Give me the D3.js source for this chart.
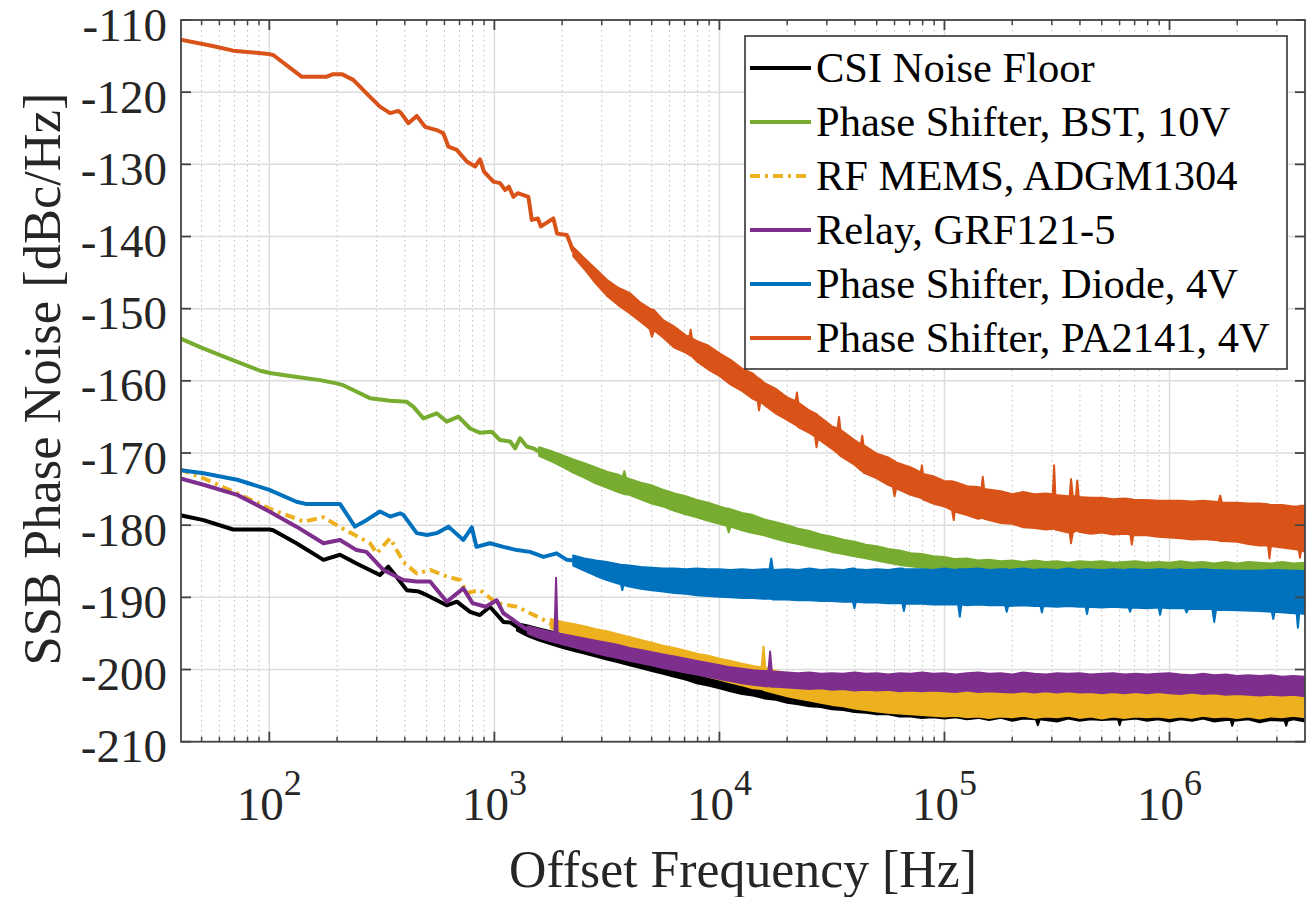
<!DOCTYPE html>
<html>
<head>
<meta charset="utf-8">
<script src="https://cdn.jsdelivr.net/npm/d3@7"></script>
<style>
html, body { margin: 0; padding: 0; background: #fff; }
svg { display: block; }
</style>
</head>
<body>
<svg id="chart" width="1314" height="897"></svg>
<script>
// ---------------------------------------------------------------------------
// Measured SSB phase noise. Each device has a low-offset trace [Hz, dBc/Hz]
// and a noisy high-offset envelope [Hz, upper dBc/Hz, lower dBc/Hz].
// ---------------------------------------------------------------------------
const seriesNames = [
  "CSI Noise Floor",
  "Phase Shifter, BST, 10V",
  "RF MEMS, ADGM1304",
  "Relay, GRF121-5",
  "Phase Shifter, Diode, 4V",
  "Phase Shifter, PA2141, 4V"
];

const traceCSI = [[40,-178.6],[51,-179.3],[69,-180.6],[100,-180.6],[104,-180.7],[132,-182.5],[174,-184.8],[206,-184.1],[244,-185.3],[310,-186.9],[338,-185.75],[360,-186.8],[408,-189.0],[462,-189.2],[502,-189.7],[614,-191.1],[681,-190.6],[780,-192.0],[862,-192.45],[955,-191.3],[1097,-193.4],[1180,-193.5]];
const bandCSI = [[1260,-193.6,-194.6],[1410,-193.9,-195.4],[1580,-194.3,-196.0],[1780,-194.7,-196.5],[2000,-195.1,-197.0],[2240,-195.4,-197.4],[2510,-195.8,-197.8],[2820,-196.2,-198.2],[3160,-196.5,-198.6],[3550,-196.8,-199.0],[3980,-197.2,-199.4],[4470,-197.5,-199.8],[5010,-197.9,-200.2],[5620,-198.2,-200.6],[6310,-198.6,-201.0],[7080,-198.9,-201.4],[7940,-199.3,-201.9],[8910,-199.6,-202.2],
  [1.00e4,-200.0,-202.6],[1.12e4,-200.2,-203.0],[1.26e4,-200.6,-203.4],[1.41e4,-200.8,-203.6],[1.58e4,-201.1,-204.0],[1.78e4,-201.3,-204.2],[2.00e4,-201.6,-204.6],[2.24e4,-201.8,-204.8],[2.51e4,-202.0,-205.1],[2.82e4,-202.3,-205.2],[3.16e4,-202.4,-205.5],[3.55e4,-202.6,-205.6],[3.98e4,-202.8,-205.9],[4.47e4,-202.9,-206.0],[5.01e4,-203.1,-206.2],[5.62e4,-203.2,-206.2],[6.31e4,-203.4,-206.5],[7.08e4,-203.5,-206.5],[7.94e4,-203.6,-206.7],[8.91e4,-203.7,-206.6],
  [1.00e5,-203.8,-206.8],[1.12e5,-203.9,-206.6],[1.26e5,-204.0,-206.9],[1.41e5,-204.0,-206.7],[1.58e5,-204.1,-207.0],[1.78e5,-204.0,-206.7],[2.00e5,-204.1,-207.1],[2.24e5,-204.2,-206.8],[2.55e5,-204.1,-206.9],[2.60e5,-204.1,-207.7],[2.65e5,-204.2,-206.9],[3.16e5,-204.2,-207.2],[3.55e5,-204.1,-206.8],[3.98e5,-204.2,-207.1],[4.47e5,-204.2,-206.9],[5.01e5,-204.3,-207.0],[5.90e5,-204.2,-206.9],[6.00e5,-204.2,-207.7],[6.10e5,-204.3,-207.0],[7.08e5,-204.2,-206.8],[7.94e5,-204.3,-207.1],[8.91e5,-204.3,-206.9],
  [1.00e6,-204.4,-207.2],[1.12e6,-204.3,-206.9],[1.26e6,-204.4,-207.1],[1.41e6,-204.4,-206.8],[1.58e6,-204.5,-207.2],[1.78e6,-204.4,-207.0],[1.87e6,-204.5,-207.0],[1.90e6,-204.5,-207.8],[1.93e6,-204.5,-207.1],[2.24e6,-204.5,-206.9],[2.51e6,-204.6,-207.3],[2.82e6,-204.5,-207.0],[3.25e6,-204.6,-207.1],[3.30e6,-204.6,-207.8],[3.35e6,-204.6,-207.1],[3.55e6,-204.6,-206.9],[4.00e6,-204.7,-207.2]];

const traceBST = [[40,-154.1],[49,-155.3],[60,-156.4],[74,-157.5],[91,-158.6],[102,-158.95],[128,-159.4],[168,-159.9],[199,-160.35],[213,-160.6],[280,-162.4],[344,-162.75],[408,-162.9],[437,-163.6],[484,-165.2],[554,-164.5],[614,-165.65],[692,-164.95],[780,-166.6],[864,-167.2],[973,-167.05],[1059,-168.2],[1175,-168.4],[1236,-169.35],[1300,-167.95],[1393,-169.1],[1500,-169.4]];
const bandBST = [[1580,-169.2,-170.4],[1780,-169.7,-171.1],[2000,-170.3,-171.9],[2240,-170.9,-172.7],[2510,-171.4,-173.4],[2820,-172.0,-174.2],[3160,-172.6,-174.8],[3550,-173.0,-175.4],[3720,-173.3,-175.6],[3780,-172.5,-175.7],[3840,-173.4,-175.7],[3980,-173.6,-175.8],[4470,-174.1,-176.4],[5010,-174.5,-177.0],[5620,-175.1,-177.4],[6310,-175.6,-178.0],[7080,-176.0,-178.5],[7940,-176.5,-178.9],[8910,-176.9,-179.4],
  [1.00e4,-177.4,-179.8],[1.08e4,-177.7,-180.1],[1.10e4,-177.7,-181.0],[1.12e4,-177.8,-180.2],[1.26e4,-178.3,-180.7],[1.41e4,-178.6,-181.1],[1.58e4,-179.2,-181.4],[1.78e4,-179.6,-181.9],[2.00e4,-180.0,-182.3],[2.24e4,-180.5,-182.6],[2.51e4,-180.8,-183.0],[2.82e4,-181.3,-183.3],[3.16e4,-181.6,-183.7],[3.55e4,-182.0,-184.0],[3.98e4,-182.3,-184.3],[4.47e4,-182.7,-184.6],[5.01e4,-182.9,-184.9],[5.62e4,-183.3,-185.2],[6.31e4,-183.5,-185.5],[7.08e4,-183.9,-185.7],[7.94e4,-184.0,-185.9],[8.91e4,-184.3,-186.1],
  [1.00e5,-184.4,-186.3],[1.12e5,-184.7,-186.5],[1.26e5,-184.6,-186.6],[1.41e5,-184.9,-186.6],[1.58e5,-184.8,-186.6],[1.78e5,-185.0,-186.6],[2.00e5,-184.9,-186.6],[2.24e5,-185.1,-186.6],[2.51e5,-184.9,-186.6],[2.82e5,-185.1,-186.6],[3.16e5,-185.0,-186.6],[3.55e5,-185.2,-186.6],[3.98e5,-185.0,-186.6],[4.47e5,-185.1,-186.6],[5.01e5,-185.0,-186.6],[5.62e5,-185.2,-186.6],[6.31e5,-185.1,-186.6],[7.08e5,-185.0,-186.6],[7.94e5,-185.2,-186.6],[8.91e5,-185.1,-186.6],
  [1.00e6,-185.2,-186.6],[1.12e6,-185.0,-186.6],[1.26e6,-185.2,-186.6],[1.41e6,-185.1,-186.6],[1.58e6,-185.3,-186.6],[1.78e6,-185.1,-186.6],[2.00e6,-185.3,-186.6],[2.24e6,-185.1,-186.6],[2.51e6,-185.2,-186.6],[2.82e6,-185.3,-186.6],[3.16e6,-185.1,-186.6],[3.55e6,-185.3,-186.6],[4.00e6,-185.2,-186.6]];

const traceMEMS = [[40,-172.25],[51,-173.5],[72,-175.6],[100,-177.7],[142,-179.5],[174,-178.9],[210,-180.4],[280,-182.5],[300,-183.9],[344,-181.8],[394,-185.1],[452,-186.7],[518,-186.2],[614,-187.1],[705,-187.6],[754,-189.4],[864,-189.0],[1023,-190.8],[1259,-191.3],[1442,-192.2],[1652,-193.1]];
const bandMEMS = [[1780,-193.0,-194.3],[2000,-193.4,-194.8],[2240,-193.7,-195.4],[2510,-194.0,-196.0],[2820,-194.4,-196.5],[3160,-194.7,-197.0],[3550,-195.1,-197.5],[3980,-195.5,-197.9],[4470,-195.9,-198.4],[5010,-196.3,-198.8],[5620,-196.7,-199.3],[6310,-197.0,-199.7],[7080,-197.4,-200.1],[7940,-197.8,-200.6],[8910,-198.1,-201.0],
  [1.00e4,-198.5,-201.4],[1.12e4,-198.8,-201.8],[1.26e4,-199.2,-202.2],[1.41e4,-199.5,-202.6],[1.54e4,-199.7,-202.7],[1.57e4,-196.8,-202.8],[1.60e4,-199.8,-202.9],[1.78e4,-200.2,-203.3],[2.00e4,-200.5,-203.7],[2.24e4,-200.8,-204.0],[2.51e4,-201.1,-204.3],[2.82e4,-201.4,-204.6],[3.16e4,-201.6,-204.9],[3.55e4,-201.9,-205.1],[3.98e4,-202.1,-205.4],[4.47e4,-202.3,-205.6],[5.01e4,-202.5,-205.8],[5.62e4,-202.7,-206.0],[6.31e4,-202.8,-206.1],[7.08e4,-202.9,-206.2],[7.94e4,-203.0,-206.3],[8.91e4,-203.0,-206.4],
  [1.00e5,-203.1,-206.5],[1.12e5,-203.0,-206.4],[1.26e5,-203.2,-206.6],[1.41e5,-203.1,-206.5],[1.58e5,-203.0,-206.7],[1.78e5,-203.2,-206.5],[2.00e5,-203.1,-206.6],[2.24e5,-203.0,-206.4],[2.51e5,-203.2,-206.7],[2.82e5,-203.1,-206.5],[3.16e5,-203.2,-206.6],[3.55e5,-203.0,-206.4],[3.98e5,-203.1,-206.7],[4.47e5,-203.2,-206.5],[5.01e5,-203.0,-206.8],[5.62e5,-203.2,-206.5],[6.31e5,-203.1,-206.7],[7.08e5,-203.2,-206.5],[7.94e5,-203.0,-206.6],[8.91e5,-203.2,-206.5],
  [1.00e6,-203.1,-206.7],[1.12e6,-203.2,-206.5],[1.26e6,-203.0,-206.7],[1.41e6,-203.2,-206.4],[1.58e6,-203.1,-206.6],[1.78e6,-203.2,-206.5],[2.00e6,-203.0,-206.7],[2.24e6,-203.2,-206.5],[2.51e6,-203.1,-206.8],[2.82e6,-203.2,-206.5],[3.16e6,-203.1,-206.6],[3.55e6,-203.2,-206.4],[4.00e6,-203.0,-206.6]];

const traceRelay = [[40,-173.5],[51,-174.4],[72,-175.8],[100,-178.1],[132,-180.2],[174,-182.5],[206,-182.05],[244,-183.45],[270,-183.7],[321,-186.2],[394,-187.6],[450,-187.8],[518,-187.8],[614,-190.6],[728,-188.75],[800,-190.8],[916,-191.3],[1023,-190.4],[1097,-192.2],[1210,-193.1],[1330,-194.05]];
const bandRelay = [[1410,-194.0,-195.0],[1580,-194.4,-195.6],[1780,-194.8,-196.1],[1850,-194.9,-196.2],[1880,-187.3,-196.3],[1910,-195.0,-196.3],[2000,-195.1,-196.5],[2240,-195.4,-196.9],[2510,-195.7,-197.3],[2820,-196.0,-197.7],[3160,-196.3,-198.1],[3550,-196.6,-198.4],[3980,-197.0,-198.8],[4470,-197.3,-199.1],[5010,-197.6,-199.4],[5620,-197.9,-199.8],[6310,-198.2,-200.1],[7080,-198.5,-200.4],[7940,-198.8,-200.7],[8910,-199.1,-201.0],
  [1.00e4,-199.4,-201.3],[1.12e4,-199.7,-201.6],[1.26e4,-199.9,-201.9],[1.41e4,-200.1,-202.1],[1.58e4,-200.2,-202.3],[1.65e4,-200.2,-202.3],[1.68e4,-197.5,-202.3],[1.71e4,-200.3,-202.4],[1.78e4,-200.3,-202.4],[2.00e4,-200.4,-202.5],[2.24e4,-200.5,-202.6],[2.51e4,-200.4,-202.7],[2.82e4,-200.6,-202.6],[3.16e4,-200.5,-202.8],[3.55e4,-200.6,-202.7],[3.98e4,-200.4,-202.9],[4.47e4,-200.6,-202.8],[5.01e4,-200.5,-202.9],[5.62e4,-200.7,-202.8],[6.31e4,-200.5,-203.0],[7.08e4,-200.6,-202.9],[7.94e4,-200.4,-203.0],[8.91e4,-200.6,-202.9],
  [1.00e5,-200.5,-203.0],[1.12e5,-200.7,-203.1],[1.26e5,-200.5,-202.9],[1.41e5,-200.4,-203.1],[1.58e5,-200.6,-203.0],[1.78e5,-200.5,-203.1],[2.00e5,-200.7,-203.2],[2.24e5,-200.4,-203.0],[2.51e5,-200.6,-203.2],[2.82e5,-200.7,-203.0],[3.16e5,-200.5,-203.2],[3.55e5,-200.6,-203.0],[3.98e5,-200.5,-203.2],[4.47e5,-200.7,-203.1],[5.01e5,-200.6,-203.3],[5.62e5,-200.5,-203.1],[6.31e5,-200.7,-203.3],[7.08e5,-200.6,-203.1],[7.94e5,-200.7,-203.3],[8.91e5,-200.6,-203.1],
  [1.00e6,-200.5,-203.3],[1.12e6,-200.7,-203.4],[1.26e6,-200.8,-203.2],[1.41e6,-200.6,-203.4],[1.58e6,-200.8,-203.3],[1.78e6,-200.7,-203.5],[2.00e6,-200.9,-203.4],[2.24e6,-200.8,-203.5],[2.51e6,-200.9,-203.6],[2.82e6,-200.8,-203.5],[3.16e6,-201.0,-203.6],[3.55e6,-200.9,-203.5],[4.00e6,-201.0,-203.7]];

const traceDiode = [[40,-172.35],[51,-172.8],[72,-173.7],[100,-175.1],[132,-176.75],[145,-177.05],[206,-177.05],[240,-180.2],[270,-179.3],[310,-178.1],[344,-178.8],[381,-178.35],[395,-178.6],[452,-181.1],[502,-181.35],[554,-181.1],[625,-180.2],[728,-182.05],[794,-180.3],[832,-183.0],[955,-182.5],[1097,-183.0],[1260,-183.45],[1440,-183.7],[1652,-184.4],[1890,-183.9],[2100,-184.8]];
const bandDiode = [[2240,-184.2,-185.6],[2510,-184.6,-186.3],[2820,-184.9,-187.0],[3160,-185.1,-187.6],[3550,-185.4,-188.1],[3650,-185.5,-188.2],[3700,-185.5,-189.0],[3750,-185.5,-188.3],[3980,-185.6,-188.5],[4470,-185.8,-188.8],[5010,-185.9,-189.0],[5620,-186.0,-189.2],[6310,-186.0,-189.4],[7080,-186.1,-189.5],[7940,-186.0,-189.7],[8910,-186.1,-189.8],
  [1.00e4,-186.1,-189.9],[1.12e4,-186.2,-190.0],[1.26e4,-186.1,-190.1],[1.41e4,-186.2,-190.1],[1.58e4,-186.1,-190.2],[1.67e4,-186.1,-190.2],[1.70e4,-184.6,-190.2],[1.73e4,-186.2,-190.3],[2.00e4,-186.1,-190.3],[2.24e4,-186.2,-190.4],[2.51e4,-186.0,-190.4],[2.82e4,-186.2,-190.5],[3.16e4,-186.1,-190.5],[3.55e4,-186.2,-190.6],[3.92e4,-186.0,-190.6],[3.98e4,-186.0,-191.5],[4.04e4,-186.1,-190.6],[4.47e4,-186.2,-190.7],[5.01e4,-186.1,-190.7],[5.62e4,-186.2,-190.8],[6.31e4,-186.0,-190.8],[6.50e4,-186.0,-190.8],[6.60e4,-186.1,-191.9],[6.70e4,-186.1,-190.9],[7.94e4,-186.1,-190.9],[8.91e4,-186.2,-191.0],
  [1.00e5,-186.0,-191.0],[1.12e5,-186.2,-191.0],[1.15e5,-186.1,-191.0],[1.17e5,-186.1,-192.7],[1.19e5,-186.1,-191.0],[1.26e5,-186.1,-191.1],[1.41e5,-186.0,-191.0],[1.58e5,-186.2,-191.1],[1.78e5,-186.1,-191.1],[1.86e5,-186.1,-191.1],[1.89e5,-186.1,-192.0],[1.92e5,-186.2,-191.2],[2.24e5,-186.0,-191.1],[2.51e5,-186.2,-191.2],[2.67e5,-186.1,-191.2],[2.71e5,-186.1,-192.1],[2.75e5,-186.1,-191.2],[3.16e5,-186.2,-191.3],[3.55e5,-186.0,-191.2],[3.98e5,-186.2,-191.3],[4.24e5,-186.1,-191.3],[4.30e5,-186.1,-192.3],[4.36e5,-186.1,-191.3],[5.01e5,-186.2,-191.4],[5.62e5,-186.1,-191.3],[6.31e5,-186.2,-191.4],[6.58e5,-186.1,-191.4],[6.68e5,-186.1,-192.0],[6.78e5,-186.1,-191.4],[7.94e5,-186.2,-191.5],[8.94e5,-186.1,-191.4],[9.08e5,-186.1,-192.4],[9.22e5,-186.1,-191.4],
  [1.00e6,-186.2,-191.5],[1.12e6,-186.1,-191.5],[1.17e6,-186.2,-191.5],[1.19e6,-186.2,-192.1],[1.21e6,-186.2,-191.6],[1.41e6,-186.1,-191.6],[1.55e6,-186.2,-191.6],[1.58e6,-186.2,-193.4],[1.61e6,-186.2,-191.7],[2.00e6,-186.3,-191.8],[2.51e6,-186.3,-191.9],[2.85e6,-186.2,-192.0],[2.89e6,-186.2,-193.0],[2.93e6,-186.2,-192.0],[3.55e6,-186.3,-192.2],[3.67e6,-186.3,-192.2],[3.72e6,-186.3,-194.2],[3.77e6,-186.3,-192.2],[4.00e6,-186.4,-192.3]];

const tracePA2141 = [[40,-112.7],[56,-113.6],[69,-114.25],[99,-114.7],[104,-114.85],[139,-117.85],[180,-117.85],[192,-117.5],[210,-117.5],[236,-118.3],[271,-120.2],[310,-122.0],[344,-122.9],[374,-122.6],[385,-122.9],[415,-124.3],[452,-123.3],[492,-124.8],[554,-125.25],[593,-125.7],[625,-127.55],[681,-128.0],[754,-129.6],[821,-130.3],[864,-129.3],[899,-131.0],[990,-132.4],[1060,-132.6],[1117,-133.55],[1160,-133.1],[1214,-134.5],[1270,-134.0],[1416,-134.5],[1466,-137.7],[1560,-137.5],[1610,-138.6],[1828,-137.5],[1900,-139.6],[2100,-139.8],[2170,-140.9]];
const bandPA2141 = [[2240,-141.5,-142.7],[2510,-143.0,-144.5],[2820,-144.5,-146.5],[3160,-146.0,-148.2],[3550,-147.1,-149.5],[3980,-147.8,-150.6],[4470,-149.2,-151.8],[4900,-150.0,-152.8],[5010,-150.1,-153.9],[5120,-150.2,-153.0],[5620,-151.6,-154.0],[6310,-152.5,-155.4],[7080,-153.7,-156.1],[7350,-153.9,-156.4],[7450,-152.9,-156.5],[7550,-154.1,-156.6],[7940,-154.5,-157.3],[8910,-155.1,-158.4],
  [1.00e4,-156.2,-159.3],[1.12e4,-157.1,-160.5],[1.26e4,-158.3,-161.4],[1.41e4,-159.0,-162.5],[1.48e4,-159.6,-162.8],[1.50e4,-159.7,-164.1],[1.52e4,-159.8,-162.9],[1.58e4,-160.3,-163.3],[1.78e4,-161.1,-164.5],[2.00e4,-162.3,-165.4],[2.18e4,-162.8,-166.1],[2.21e4,-161.6,-166.2],[2.24e4,-163.0,-166.4],[2.51e4,-164.1,-167.2],[2.66e4,-164.5,-167.7],[2.70e4,-164.6,-169.2],[2.74e4,-164.8,-168.0],[3.16e4,-166.3,-169.4],[3.35e4,-166.6,-170.0],[3.40e4,-165.0,-170.2],[3.45e4,-166.8,-170.4],[3.98e4,-168.2,-171.6],[4.25e4,-168.8,-172.4],[4.31e4,-167.6,-172.5],[4.37e4,-168.9,-172.7],[5.01e4,-170.1,-173.5],[5.62e4,-170.6,-174.4],[5.90e4,-171.0,-174.7],[6.00e4,-171.1,-176.0],[6.10e4,-171.3,-174.9],[7.08e4,-172.0,-175.8],[7.85e4,-172.7,-176.2],[7.94e4,-171.7,-176.3],[8.03e4,-172.9,-176.4],[8.91e4,-173.2,-177.0],
  [1.00e5,-173.9,-177.4],[1.08e5,-173.9,-177.9],[1.10e5,-174.0,-179.3],[1.11e5,-174.0,-178.1],[1.26e5,-174.6,-178.6],[1.41e5,-174.7,-179.1],[1.46e5,-174.9,-179.0],[1.48e5,-173.3,-179.0],[1.50e5,-175.0,-179.1],[1.78e5,-175.3,-179.7],[2.00e5,-175.7,-179.8],[2.24e5,-175.4,-180.3],[2.51e5,-175.7,-180.4],[2.82e5,-175.6,-180.6],[3.03e5,-175.7,-180.5],[3.07e5,-171.7,-180.5],[3.11e5,-175.8,-180.6],[3.55e5,-176.0,-181.0],[3.60e5,-176.0,-181.0],[3.65e5,-173.6,-182.5],[3.72e5,-176.0,-181.0],[3.84e5,-176.0,-180.8],[3.89e5,-173.8,-180.7],[3.95e5,-176.1,-180.9],[4.47e5,-176.2,-181.2],[5.01e5,-176.2,-181.0],[5.62e5,-176.4,-181.3],[6.31e5,-176.3,-181.2],[6.70e5,-176.4,-181.3],[6.80e5,-176.4,-182.7],[6.90e5,-176.5,-181.4],[7.94e5,-176.5,-181.4],[8.91e5,-176.6,-181.6],
  [1.00e6,-176.6,-181.7],[1.12e6,-176.6,-181.8],[1.26e6,-176.7,-182.0],[1.41e6,-176.6,-181.9],[1.65e6,-176.8,-182.1],[1.68e6,-175.9,-182.2],[1.71e6,-176.9,-182.2],[2.00e6,-176.9,-182.3],[2.24e6,-177.0,-182.6],[2.51e6,-177.0,-182.8],[2.74e6,-177.1,-182.8],[2.78e6,-177.2,-184.6],[2.82e6,-177.2,-182.9],[3.16e6,-177.2,-183.1],[3.55e6,-177.4,-183.3],[3.75e6,-177.4,-183.4],[3.80e6,-177.3,-184.5],[3.85e6,-177.3,-183.5],[4.00e6,-177.3,-183.7]];

const traces = [traceCSI, traceBST, traceMEMS, traceRelay, traceDiode, tracePA2141];
const bands  = [bandCSI, bandBST, bandMEMS, bandRelay, bandDiode, bandPA2141];

// Axis ticks
const yTicks = [-210, -200, -190, -180, -170, -160, -150, -140, -130, -120, -110];
const xDecades = [2, 3, 4, 5, 6];

// ---------------------------------------------------------------------------
// Styles
// ---------------------------------------------------------------------------
const colors = ["#000000", "#77AC30", "#EDB120", "#7E2F8E", "#0072BD", "#D95319"];
const dashes = [null, null, "10,5,3,5", null, null, null];
const FONT = "'Liberation Serif', 'Times New Roman', serif";
const AXIS_COLOR = "#262626";

const svg = d3.select("#chart");
const plot = { left: 181, right: 1305, top: 20, bottom: 741.7 };

const x = d3.scaleLog().domain([40.5, 4.0e6]).range([plot.left, plot.right]);
const y = d3.scaleLinear().domain([-210, -110]).range([plot.bottom, plot.top]);

// minor tick positions (2..9 x 10^n) inside the domain
const minorTicks = [];
for (let e = 1; e <= 6; e++) {
  for (let k = 2; k <= 9; k++) {
    const v = k * Math.pow(10, e);
    if (v > x.domain()[0] && v < x.domain()[1] * 0.999) minorTicks.push(v);
  }
}
const majorTicks = xDecades.map(d => Math.pow(10, d));

// grid
const grid = svg.append("g");
grid.selectAll("line.minor").data(minorTicks).join("line")
  .attr("x1", d => x(d)).attr("x2", d => x(d))
  .attr("y1", plot.top).attr("y2", plot.bottom)
  .attr("stroke", "#bdbdbd").attr("stroke-width", 1)
  .attr("stroke-dasharray", "1.5,3.5");
grid.selectAll("line.vmajor").data(majorTicks).join("line")
  .attr("x1", d => x(d)).attr("x2", d => x(d))
  .attr("y1", plot.top).attr("y2", plot.bottom)
  .attr("stroke", "#dcdcdc").attr("stroke-width", 1.5);
grid.selectAll("line.hmajor").data(yTicks).join("line")
  .attr("x1", plot.left).attr("x2", plot.right)
  .attr("y1", d => y(d)).attr("y2", d => y(d))
  .attr("stroke", "#dcdcdc").attr("stroke-width", 1.5);

// clip
svg.append("defs").append("clipPath").attr("id", "plotClip")
  .append("rect")
  .attr("x", plot.left).attr("y", plot.top)
  .attr("width", plot.right - plot.left).attr("height", plot.bottom - plot.top);

const dataLayer = svg.append("g").attr("clip-path", "url(#plotClip)");

const lineGen = d3.line().x(d => x(d[0])).y(d => y(d[1]));
const areaGen = d3.area()
  .x(d => x(d[0])).y0(d => y(d[2])).y1(d => y(d[1]));

traces.forEach((trace, i) => {
  const band = bands[i];
  const g = dataLayer.append("g");
  g.append("path")
    .attr("d", areaGen(band))
    .attr("fill", colors[i])
    .attr("stroke", colors[i])
    .attr("stroke-width", 2)
    .attr("stroke-linejoin", "round");
  const pts = trace.concat([[band[0][0], (band[0][1] + band[0][2]) / 2]]);
  g.append("path")
    .attr("d", lineGen(pts))
    .attr("fill", "none")
    .attr("stroke", colors[i])
    .attr("stroke-width", 4)
    .attr("stroke-linejoin", "round")
    .attr("stroke-dasharray", dashes[i]);
});

// axes box and ticks
const axes = svg.append("g");
axes.append("rect")
  .attr("x", plot.left).attr("y", plot.top)
  .attr("width", plot.right - plot.left).attr("height", plot.bottom - plot.top)
  .attr("fill", "none").attr("stroke", "#444").attr("stroke-width", 1.8);

const MAJ = 10, MIN = 5;
yTicks.forEach(v => {
  axes.append("line").attr("x1", plot.left).attr("x2", plot.left + MAJ)
    .attr("y1", y(v)).attr("y2", y(v)).attr("stroke", "#444").attr("stroke-width", 1.8);
  axes.append("line").attr("x1", plot.right - MAJ).attr("x2", plot.right)
    .attr("y1", y(v)).attr("y2", y(v)).attr("stroke", "#444").attr("stroke-width", 1.8);
  axes.append("text")
    .attr("x", plot.left - 14).attr("y", y(v) + 20.5)
    .attr("text-anchor", "end")
    .attr("font-family", FONT).attr("font-size", 47)
    .attr("fill", AXIS_COLOR)
    .text(String(v));
});
majorTicks.forEach(v => {
  [[plot.bottom, plot.bottom - MAJ], [plot.top, plot.top + MAJ]].forEach(([a, b]) => {
    axes.append("line").attr("x1", x(v)).attr("x2", x(v))
      .attr("y1", a).attr("y2", b).attr("stroke", "#444").attr("stroke-width", 1.8);
  });
});
minorTicks.forEach(v => {
  [[plot.bottom, plot.bottom - MIN], [plot.top, plot.top + MIN]].forEach(([a, b]) => {
    axes.append("line").attr("x1", x(v)).attr("x2", x(v))
      .attr("y1", a).attr("y2", b).attr("stroke", "#444").attr("stroke-width", 1.5);
  });
});
xDecades.forEach(d => {
  const t = axes.append("text")
    .attr("x", x(Math.pow(10, d))).attr("y", 820)
    .attr("text-anchor", "middle")
    .attr("font-family", FONT).attr("font-size", 47)
    .attr("fill", AXIS_COLOR);
  t.append("tspan").text("10");
  t.append("tspan").attr("dy", -25).attr("font-size", 36).text(String(d));
});

// axis labels
svg.append("text")
  .attr("x", (plot.left + plot.right) / 2).attr("y", 887)
  .attr("text-anchor", "middle")
  .attr("font-family", FONT).attr("font-size", 51.8)
  .attr("fill", AXIS_COLOR)
  .text("Offset Frequency [Hz]");
svg.append("text")
  .attr("transform", "translate(60,379) rotate(-90)")
  .attr("text-anchor", "middle")
  .attr("font-family", FONT).attr("font-size", 52.5)
  .attr("fill", AXIS_COLOR)
  .text("SSB Phase Noise [dBc/Hz]");

// legend
const legend = svg.append("g");
legend.append("rect")
  .attr("x", 745).attr("y", 36).attr("width", 542).attr("height", 333)
  .attr("fill", "#fff").attr("stroke", AXIS_COLOR).attr("stroke-width", 1.5);
seriesNames.forEach((name, i) => {
  const ry = 68 + i * 54;
  legend.append("line")
    .attr("x1", 750).attr("x2", 811).attr("y1", ry).attr("y2", ry)
    .attr("stroke", colors[i]).attr("stroke-width", 4)
    .attr("stroke-dasharray", dashes[i]);
  legend.append("text")
    .attr("x", 816).attr("y", ry + 13.5)
    .attr("font-family", FONT).attr("font-size", 42.5)
    .attr("fill", "#000")
    .text(name);
});
</script>
</body>
</html>
